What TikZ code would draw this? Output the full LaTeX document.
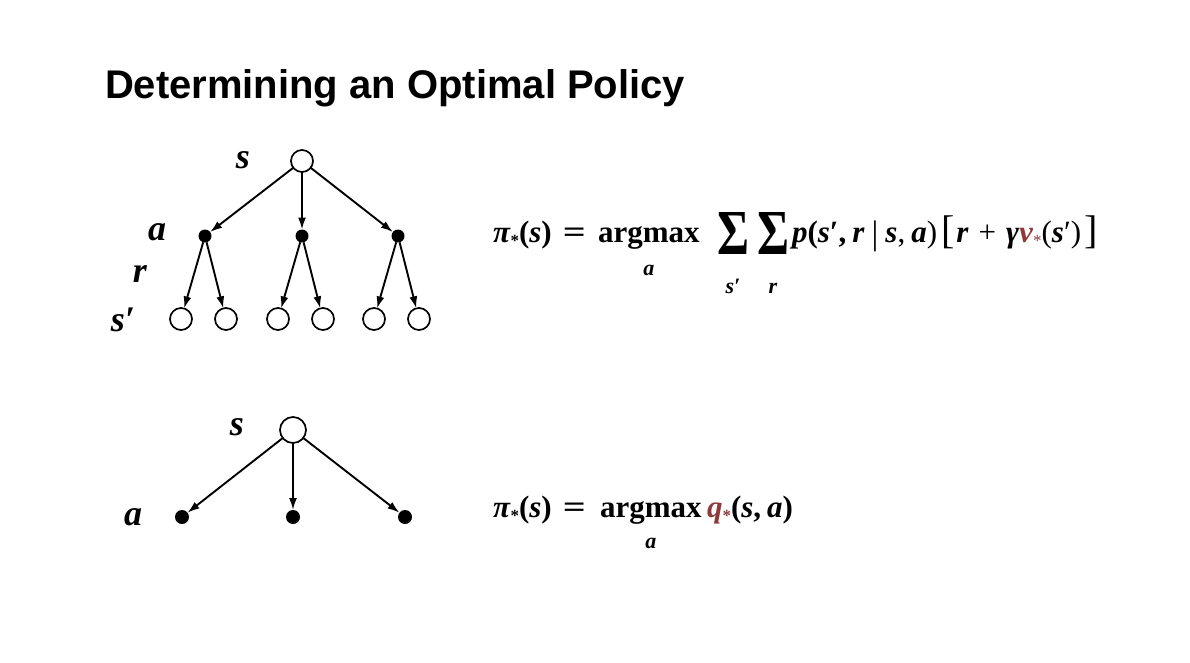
\documentclass[tikz,border=0pt]{standalone}
\usepackage{fontspec}
\usepackage{graphicx}
\setmainfont{Liberation Serif}
\newfontfamily\titlefont{Liberation Sans}
\usetikzlibrary{arrows.meta,positioning}
\definecolor{ink}{HTML}{000000}
\definecolor{starred}{HTML}{8E3A3A}
\newcommand\mv[1]{\textbf{\textit{#1}}}
\newcommand\optstar{\raisebox{-4pt}{\fontsize{17}{17}\selectfont *}}
\newcommand\bigsum{\resizebox{32pt}{42pt}{\bfseries Σ}}
\newcommand\eqsign{\hspace{11pt}\scalebox{1.3}[1]{=}}
\newcommand\sep{,\hspace{6pt}}
\tikzset{
  every node/.style={inner sep=0pt, outer sep=0pt},
  stnode/.style={circle, draw=ink, line width=1.7pt, fill=white, minimum size=22pt},
  bigst/.style={stnode, minimum size=26pt},
  actnode/.style={circle, fill=ink, minimum size=13pt},
  bigact/.style={actnode, minimum size=14pt},
  arr/.style={-{Latex[length=12pt, width=8pt]}, line width=1.9pt, draw=ink},
  varlbl/.style={font=\fontsize{36}{36}\selectfont\bfseries\itshape, anchor=base},
  eqn/.style={font=\fontsize{31}{31}\selectfont\bfseries, anchor=base west},
  sublbl/.style={font=\fontsize{22}{22}\selectfont\bfseries\itshape, anchor=base},
  ttl/.style={font=\titlefont\fontsize{40}{40}\selectfont\bfseries, anchor=base west},
}
\begin{document}
\begin{tikzpicture}[x=1pt, y=-1pt]
\fill[white] (0,0) rectangle (1190,663);
\useasboundingbox (0,0) rectangle (1190,663);

\node[ttl] (title) at (105,99) {Determining an Optimal Policy};

% full backup tree
\node[stnode] (s1) at (302,161) {};
\node[actnode] (a1) at (205,236) {};
\node[actnode] (a2) at (302,236) {};
\node[actnode] (a3) at (398,236) {};
\foreach \x [count=\i] in {181,226,278,323,374,419}
  \node[stnode] (n\i) at (\x,319) {};

\foreach \i in {1,2,3}
  \draw[arr] (s1) -- (a\i);
\foreach \a/\l in {1/1,1/2,2/3,2/4,3/5,3/6}
  \draw[arr] (a\a) -- (n\l);

\node[varlbl] (ls1) at (243,168) {s};
\node[varlbl] (la1) at (157,240) {a};
\node[varlbl] (lr1) at (140,282) {r};
\node[varlbl] (lsp) at (123,331) {s′};

% q backup tree
\node[bigst] (s2) at (293,430) {};
\node[bigact] (b1) at (182,517) {};
\node[bigact] (b2) at (293,517) {};
\node[bigact] (b3) at (405,517) {};
\foreach \i in {1,2,3}
  \draw[arr] (s2) -- (b\i);

\node[varlbl] (ls2) at (237,435) {s};
\node[varlbl] (la2) at (133,525) {a};

% first equation
\node[eqn] (pi1) at (493,242) {\mv{π}\optstar(\mv{s})\eqsign};
\node[eqn] (arg1) at (598,242) {argmax};
\node[sublbl] (sa1) at ([yshift=-33pt]arg1.base) {a};
\node (sum1) at (733,233) {\bigsum};
\node (sum2) at (773,233) {\bigsum};
\node[sublbl] (ss1) at ([yshift=-60pt]sum1.center) {s′};
\node[sublbl] (sr1) at ([yshift=-60pt]sum2.center) {r};
\node[eqn] (rest1) at (792,242) {\mv{p}(\mv{s}′\sep\mv{r}\hspace{7pt}\mdseries\raisebox{-2pt}{\fontsize{34}{34}\selectfont|}\hspace{7pt}\mv{s}\sep\mv{a})\hspace{4pt}\raisebox{-1pt}{\fontsize{40}{40}\selectfont\mdseries[}\hspace{2pt}\mv{r}\hspace{10pt}+\hspace{10pt}\mv{γ}\textcolor{starred}{\mv{v}\optstar}(\mv{s}′)\hspace{3pt}\raisebox{-1pt}{\fontsize{40}{40}\selectfont\mdseries]}};

% second equation
\node[eqn] (pi2) at (493,517) {\mv{π}\optstar(\mv{s})\eqsign};
\node[eqn] (arg2) at (600,517) {argmax};
\node[sublbl] (sa2) at ([yshift=-31pt]arg2.base) {a};
\node[eqn] (rest2) at (707,517) {\textcolor{starred}{\mv{q}\optstar}(\mv{s}\sep\mv{a})};

\end{tikzpicture}
\end{document}
